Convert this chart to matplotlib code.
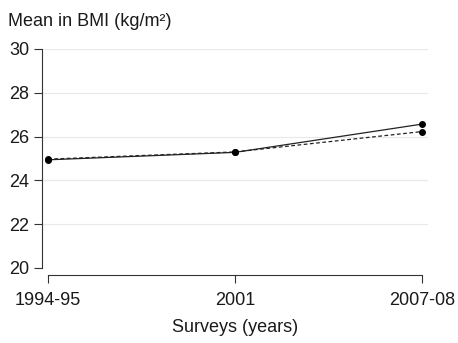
import matplotlib
matplotlib.use("Agg")
import matplotlib.pyplot as plt

plt.rcParams['font.family'] = ['Liberation Sans', 'DejaVu Sans']

surveys = ["1994-95", "2001", "2007-08"]
bmi_solid = [24.94, 25.28, 26.57]
bmi_dashed = [24.97, 25.30, 26.23]
yticks = [20, 22, 24, 26, 28, 30]

fig = plt.figure(figsize=(4.58, 3.43), dpi=100)
W, H = 458, 343
ax = fig.add_axes([42 / W, 1 - 268 / H, 386 / W, 219 / H])

x = list(range(len(surveys)))
for t in yticks:
    ax.axhline(t, color="#e8e8e8", lw=0.8, zorder=0)

ax.plot(x, bmi_solid, color="#222222", lw=0.9, ls="-", marker="o", ms=4, mfc="black", mec="black")
ax.plot(x, bmi_dashed, color="#222222", lw=0.9, ls=(0, (3, 2)), marker="o", ms=4, mfc="black", mec="black")

pad = 6 / 187
ax.set_xlim(-pad, 2 + pad)
ax.set_ylim(20, 30)
ax.set_xticks(x)
ax.set_xticklabels(surveys)
ax.set_yticks(yticks)

for s in ["top", "right"]:
    ax.spines[s].set_visible(False)
ax.spines["bottom"].set_position(("outward", 5))
ax.spines["bottom"].set_bounds(0, 2)
ax.spines["left"].set_bounds(20, 30)
for s in ["left", "bottom"]:
    ax.spines[s].set_linewidth(0.8)
    ax.spines[s].set_color("#333333")

ax.tick_params(axis="both", direction="out", length=6, width=0.8, color="#333333",
               labelsize=13, labelcolor="#1a1a1a")
ax.tick_params(axis="y", pad=3)
ax.tick_params(axis="x", pad=6.5)

fig.text(8 / W, 1 - 21 / H, "Mean in BMI (kg/m²)", fontsize=13, color="#1a1a1a",
         ha="left", va="center")
fig.text(235 / W, 1 - 328 / H, "Surveys (years)", fontsize=13, color="#1a1a1a",
         ha="center", va="center")

fig.savefig("out.png", dpi=100)
